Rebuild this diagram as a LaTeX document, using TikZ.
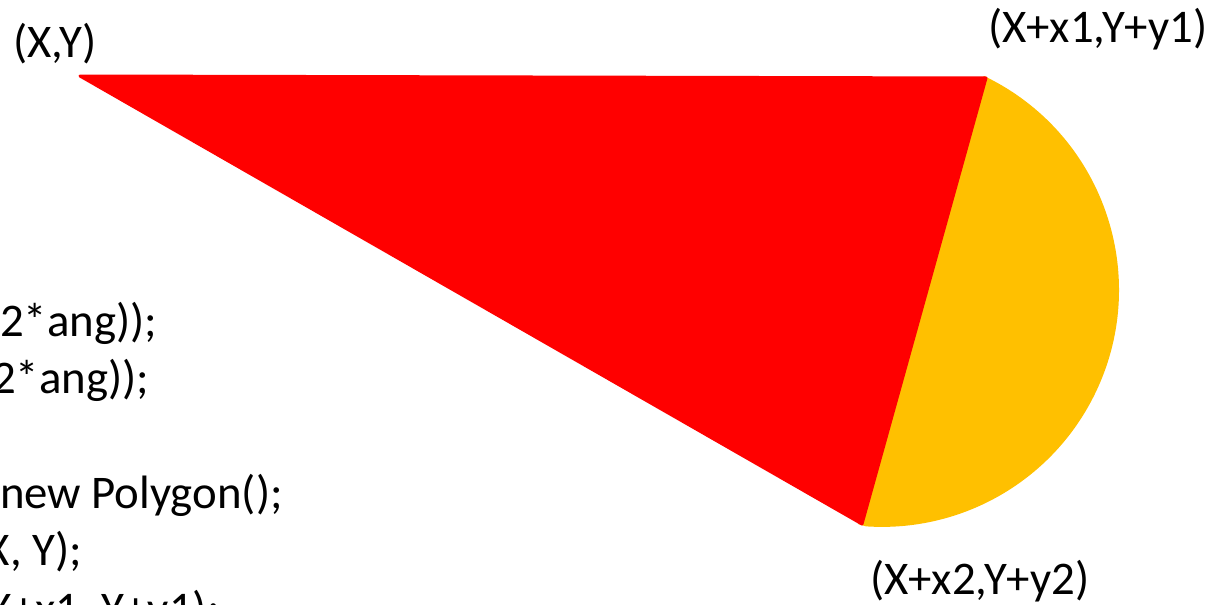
\documentclass[tikz,border=0pt]{standalone}
\usepackage{fontspec}
\setmainfont{Carlito}
\definecolor{wedgered}{HTML}{FF0000}
\definecolor{capgold}{HTML}{FFC000}
\begin{document}
\begin{tikzpicture}[x=0.5pt,y=0.5pt,
  lbl/.style={anchor=base west,inner sep=0pt,outer sep=0pt,font=\fontsize{23.4}{28}\selectfont},
  codeline/.style={lbl}]
\clip (0,0) rectangle (1222,-605);
\useasboundingbox (0,0) rectangle (1222,-605);
% corner points
\coordinate (A) at (80,-76);
\coordinate (B) at (986,-78);
\coordinate (C) at (862,-524);
\coordinate (P1) at (984,-76);
\coordinate (P2) at (866,-525);
% gold circular segment (circle centre (882,-290), r=237), extended under the red edge
\fill[capgold] (P1) arc[start angle=64.5,end angle=-93.9,radius=237] -- (858,-524) -- (970,-90) -- cycle;
% red triangle
\filldraw[wedgered,line width=1.5pt,line join=round] (A) -- (B) -- (C) -- cycle;
% labels
\node[lbl] (lXY) at (13,-57) {(X,Y)};
\node[lbl] (lX1) at (988,-42) {(X+x1,Y+y1)};
\node[lbl] (lX2) at (870,-594) {(X+x2,Y+y2)};
% partly visible code text
\node[codeline] (c1) at (0,-336) {2*ang));};
\node[codeline] (c2) at (-8,-393) {2*ang));};
\node[codeline] (c3) at (0,-508) {new Polygon();};
\node[codeline] (c4) at (-14,-565) {X, Y);};
\node[codeline] (c5) at (-12,-624) {X+x1, Y+y1);};
\end{tikzpicture}
\end{document}
